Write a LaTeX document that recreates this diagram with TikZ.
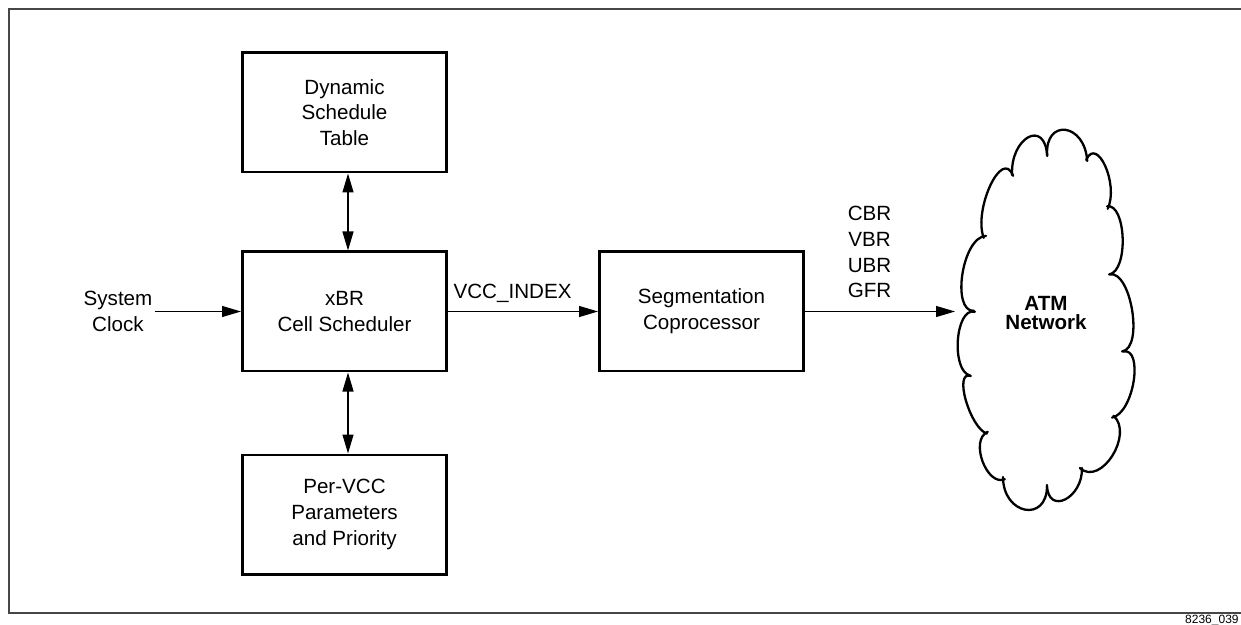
\documentclass[tikz,border=0pt]{standalone}
\usepackage{fontspec}
\setmainfont{Liberation Sans}
\usetikzlibrary{positioning,arrows.meta}

\newcommand\blkfont{\fontsize{10.3}{12.9}\selectfont}

\tikzset{
    blk/.style={draw, line width=1.3pt, minimum width=102.2pt, minimum height=59.7pt,
        inner sep=0pt, align=center, font=\blkfont},
    lbl/.style={font=\blkfont, align=center, inner sep=0pt, text depth=0pt},
    arr/.style={-{Triangle[length=9.5pt,width=5.5pt]}, line width=0.6pt},
    darr/.style={{Triangle[length=9.5pt,width=5.5pt]}-{Triangle[length=9.5pt,width=5.5pt]}, line width=0.6pt},
    lobe/.style={line width=1.15pt, line cap=round, shorten <=-1pt, shorten >=-1.5pt},
}

\begin{document}
\begin{tikzpicture}[x=0.5pt, y=-0.5pt]
    \useasboundingbox (0,0) rectangle (1241,625);
    \draw[line width=1pt, draw=black!72] (1250,9) -- (9,9) -- (9,613) -- (1250,613);

    \node[blk] (sched) at (344.5,311.5) {xBR\\Cell Scheduler};
    \node[blk, above=38.5pt of sched] (dst) {Dynamic\\Schedule\\Table};
    \node[blk, below=40.5pt of sched] (pervcc) {Per-VCC\\Parameters\\and Priority};
    \node[blk, right=75pt of sched] (seg) {Segmentation\\Coprocessor};
    \node[lbl, inner sep=1pt] (clk) at (118,311.5) {System\\Clock};
    \node[font=\blkfont\bfseries, align=center, inner sep=0pt] (atm) at (1046,313) {ATM\\[-3pt]Network};
    \coordinate (atmW) at (955,311.5);

    \draw[arr] (clk) -- (sched);
    \draw[darr] ([xshift=1.75pt]dst.south) -- ([xshift=1.75pt]sched.north);
    \draw[darr] ([xshift=1.75pt]sched.south) -- ([xshift=1.75pt]pervcc.north);
    \draw[arr] (sched) -- node[lbl, pos=0, anchor=base west, xshift=2.5pt, yshift=6.5pt] {VCC\_INDEX} (seg);
    \draw[arr] (seg) -- node[lbl, pos=0.43, above=6.5pt] {CBR\\VBR\\UBR\\GFR} (atmW);

    \foreach \i/\x/\y in {1/1012/173, 2/1047/153, 3/1087/158, 4/1109/206, 5/1112/274,
        6/1125/351, 7/1115/417, 8/1082/470, 9/1047/488, 10/1003/480, 11/985/433,
        12/968/375, 13/972/311, 14/983/236}
        \coordinate (c\i) at (\x,\y);
    \foreach \a/\b/\dx/\dy in {14/1/-10/-26, 1/2/-2/-35, 2/3/-2/-35, 3/4/10/-22,
        4/5/17/-3, 5/6/19/-3, 6/7/19/-4, 7/8/19/17, 8/9/1/28, 9/10/0/35,
        10/11/-16/7, 11/12/-15/-5, 12/13/-17/-4, 13/14/-21/1}
        \draw[lobe] (c\a) .. controls +(\dx,\dy) and +(\dx,\dy) .. (c\b);

    \node[font=\fontsize{6}{7}\selectfont, anchor=north east, inner sep=0pt] (figno) at (1239,615) {8236\_039};
\end{tikzpicture}
\end{document}
